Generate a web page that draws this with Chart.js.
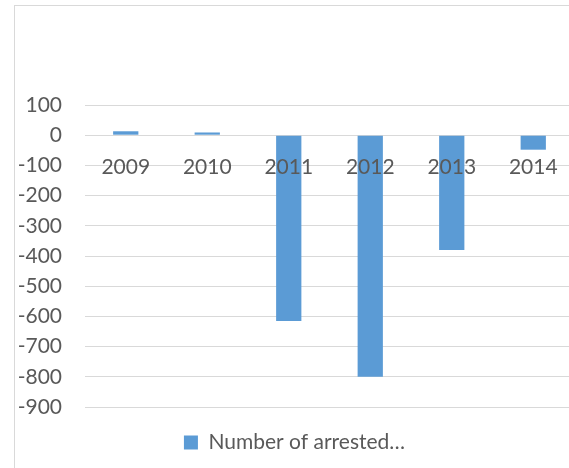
<!DOCTYPE html>
<html>
<head>
<meta charset="utf-8">
<script src="https://cdn.jsdelivr.net/npm/chart.js@4"></script>
<style>
    html, body { margin: 0; padding: 0; background: #fff; overflow: hidden; }
    body { width: 569px; height: 468px; position: relative; }
    .container {
        position: absolute; left: 14px; top: 5px;
        width: 590px; height: 480px;
        border-left: 1px solid #d9d9d9; border-top: 1px solid #d9d9d9;
    }
</style>
</head>
<body>
<div class="container"><canvas id="arrestChart"></canvas></div>
<script>
// Data dari grafik
const years = ['2009', '2010', '2011', '2012', '2013', '2014'];
const arrestedValues = [13, 9, -615, -800, -380, -48];
const seriesLabel = 'Number of arrested\u2026';
const yMin = -900;
const yMax = 100;
const yStep = 100;

const textColor = '#595959';
const gridColor = '#d9d9d9';
const barColor = '#5b9bd5';
const fontSize = 21;

new Chart(document.getElementById('arrestChart'), {
    type: 'bar',
    data: {
        labels: years,
        datasets: [{
            label: seriesLabel,
            data: arrestedValues,
            backgroundColor: barColor,
            borderWidth: 0,
            barPercentage: 0.31,
            categoryPercentage: 1
        }]
    },
    options: {
        responsive: true,
        maintainAspectRatio: false,
        animation: false,
        layout: {
            padding: { left: 0, right: 31, top: 99, bottom: 23 }
        },
        scales: {
            x: {
                position: { y: 0 }, // label kategori di garis nol
                grid: { display: false, drawTicks: false },
                border: { display: false },
                ticks: {
                    z: 1, // label digambar di atas batang
                    color: textColor,
                    font: { family: 'Lato', size: fontSize },
                    padding: 19,
                    maxRotation: 0
                }
            },
            y: {
                min: yMin,
                max: yMax,
                afterFit: function(scale) { scale.width = 70; },
                grid: { color: gridColor, lineWidth: 1, drawTicks: false },
                border: { display: false },
                ticks: {
                    stepSize: yStep,
                    color: textColor,
                    font: { family: 'Lato', size: fontSize },
                    padding: 23
                }
            }
        },
        plugins: {
            legend: {
                position: 'bottom',
                labels: {
                    color: textColor,
                    font: { family: 'Lato', size: fontSize },
                    boxWidth: 14,
                    boxHeight: 14,
                    padding: 25
                }
            },
            tooltip: { enabled: false }
        }
    }
});
</script>
</body>
</html>
